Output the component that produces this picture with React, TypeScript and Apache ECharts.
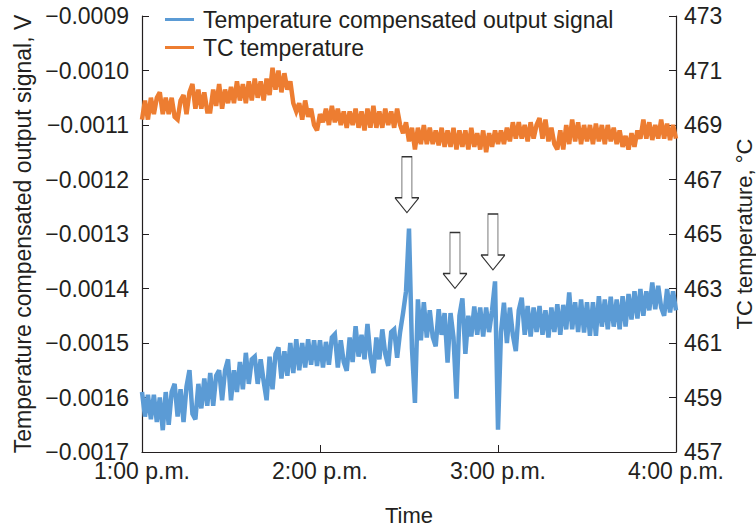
import React, { useEffect, useRef } from "react";
import * as echarts from "echarts";

// Time axis: minutes after 1:00 p.m.
const timeTickLabels = ["1:00 p.m.", "2:00 p.m.", "3:00 p.m.", "4:00 p.m."];

// Temperature compensated output signal, V (one value per minute, 1:00–4:00 p.m.)
const signalValues = [
  -0.00159, -0.001635, -0.001595, -0.00164, -0.001595, -0.001645, -0.0016, -0.00166, -0.00159, -0.00165,
  -0.00159, -0.001575, -0.001635, -0.001585, -0.001645, -0.00158, -0.00155, -0.00163, -0.00164, -0.001575,
  -0.00162, -0.001565, -0.001615, -0.001555, -0.001615, -0.00156, -0.00155, -0.001605, -0.00155, -0.00153,
  -0.001605, -0.00155, -0.00159, -0.001535, -0.001585, -0.001518, -0.001575, -0.00153, -0.001525, -0.001575,
  -0.00153, -0.00157, -0.001605, -0.001525, -0.001585, -0.00152, -0.001508, -0.001565, -0.001515, -0.00156,
  -0.0015, -0.001555, -0.001493, -0.00155, -0.0015, -0.001545, -0.001493, -0.00154, -0.001495, -0.001542,
  -0.001495, -0.001545, -0.001498, -0.00154, -0.00149, -0.001484, -0.001545, -0.001495, -0.001535, -0.001551,
  -0.00149, -0.001535, -0.001469, -0.001525, -0.001485, -0.00153, -0.001465, -0.001525, -0.001555, -0.00149,
  -0.00153, -0.001475, -0.00152, -0.001542, -0.00148, -0.001475, -0.001527, -0.00148, -0.001445, -0.001405,
  -0.00129, -0.00151, -0.00161, -0.00142, -0.001495, -0.001425, -0.00149, -0.00144, -0.001489, -0.001506,
  -0.001438, -0.001485, -0.001445, -0.001536, -0.001445, -0.00149, -0.001602, -0.00145, -0.001418, -0.00152,
  -0.00145, -0.001488, -0.001433, -0.001485, -0.001435, -0.001488, -0.001435, -0.00148, -0.00144, -0.001387,
  -0.001659, -0.00148, -0.001426, -0.0015, -0.001435, -0.001485, -0.001515, -0.00144, -0.001417, -0.001485,
  -0.001432, -0.001488, -0.001435, -0.00148, -0.001432, -0.001485, -0.00144, -0.00149, -0.001435, -0.00148,
  -0.001429, -0.001485, -0.00143, -0.001475, -0.001407, -0.001475, -0.001425, -0.00148, -0.00142, -0.001481,
  -0.001425, -0.001487, -0.001425, -0.001487, -0.001414, -0.00147, -0.00142, -0.001475, -0.001415, -0.00147,
  -0.00142, -0.001475, -0.001414, -0.00147, -0.00141, -0.001457, -0.001405, -0.001455, -0.001401, -0.00145,
  -0.001405, -0.00144, -0.001389, -0.001438, -0.001395, -0.001435, -0.00145, -0.001401, -0.001444, -0.001405,
  -0.00144,
];

// TC temperature, °C (one value per minute)
const tcTemperature = [
  469.2, 469.9, 469.2, 470.0, 469.4, 470.0, 470.2, 469.4, 470.0, 469.4,
  470.0, 469.3, 469.2, 469.9, 470.1, 469.4, 470.2, 470.5, 469.6, 470.3,
  469.6, 470.2, 469.5, 469.5, 470.3, 469.7, 470.5, 469.6, 470.3, 469.8,
  470.4, 469.8, 470.6, 469.9, 470.5, 469.8, 470.6, 469.9, 470.7, 470.0,
  470.6, 469.9, 470.7, 470.1, 471.1, 470.3, 471.0, 470.2, 470.9, 470.3,
  470.6, 469.8, 469.5, 469.8, 469.2, 469.9, 469.3, 469.6, 469.0, 468.8,
  469.4, 469.1, 469.6, 469.0, 469.7, 469.1, 469.6, 469.0, 469.5, 468.9,
  469.5, 469.0, 469.6, 468.9, 469.5, 468.8, 469.6, 468.9, 469.7, 468.9,
  469.5, 468.9, 469.6, 469.0, 469.5, 468.9, 469.6, 469.0, 468.7, 469.1,
  468.4, 468.9, 468.1, 468.9, 468.3, 469.0, 468.3, 468.9, 468.3, 468.8,
  468.25, 468.9, 468.2, 468.8, 468.2, 468.9, 468.1, 468.8, 468.2, 468.8,
  468.1, 468.9, 468.2, 468.7, 468.1, 468.8, 468.0, 468.7, 468.2, 468.8,
  468.3, 468.8, 468.3, 468.9, 468.4, 469.1, 468.5, 469.1, 468.5, 469.0,
  468.4, 469.1, 468.5, 469.0, 469.25, 468.5, 469.2, 468.4, 468.9, 468.3,
  468.1, 468.8, 468.1, 469.0, 468.3, 469.2, 468.4, 469.1, 468.3, 469.0,
  468.4, 469.0, 468.3, 469.05, 468.4, 469.0, 468.3, 469.0, 468.4, 468.9,
  468.3, 468.8, 468.2, 468.6, 468.1, 468.7, 468.2, 468.8, 468.5, 469.2,
  468.5, 469.1, 468.45, 469.0, 468.5, 469.2, 468.5, 469.05, 468.45, 469.0,
  468.5,
];

// Annotation arrows: tip position [minute, signal V]
const arrowTips = [
  [89.3, -0.001261],
  [105.5, -0.0014],
  [118.3, -0.001366],
];

const FONT = "'Liberation Sans', Arial, Helvetica, sans-serif";
const TXT = "#231f20";
const BLUE = "#5b9bd5";
const ORANGE = "#ed7d31";
const ARROW_PATH = "path://M7,0 L17,0 L17,41 L24,41 L12,56 L0,41 L7,41 Z";

export default function App() {
  const ref = useRef<HTMLDivElement>(null);
  useEffect(() => {
    if (!ref.current) return;
    const chart = echarts.init(ref.current, null, { renderer: "svg" });
    const sig = signalValues.map((v, i) => [i, v]);
    const tc = tcTemperature.map((v, i) => [i, v]);
    chart.setOption({
      animation: false,
      textStyle: { fontFamily: FONT, color: TXT },
      grid: { left: 142, right: 80, top: 16, bottom: 77, containLabel: false, outerBoundsMode: "none" },
      legend: {
        orient: "vertical",
        left: 160,
        top: 3,
        itemWidth: 29,
        itemHeight: 3,
        itemGap: 5,
        icon: "rect",
        textStyle: { fontFamily: FONT, fontSize: 23, color: TXT, padding: [0, 0, 0, 4] },
        data: ["Temperature compensated output signal", "TC temperature"],
      },
      xAxis: {
        type: "value",
        min: 0,
        max: 180,
        interval: 60,
        name: "Time",
        nameLocation: "middle",
        nameGap: 52,
        nameTextStyle: { fontFamily: FONT, fontSize: 22, color: TXT },
        axisLine: { show: true, lineStyle: { color: TXT, width: 1.2 } },
        axisTick: { show: true, inside: true, length: 7, lineStyle: { color: TXT } },
        axisLabel: {
          fontFamily: FONT,
          fontSize: 23,
          color: TXT,
          margin: 7,
          formatter: (v: number) => timeTickLabels[Math.round(v / 60)] ?? "",
        },
        splitLine: { show: false },
      },
      yAxis: [
        {
          type: "value",
          min: -0.0017,
          max: -0.0009,
          interval: 0.0001,
          position: "left",
          name: "Temperature compensated output signal, V",
          nameLocation: "middle",
          nameRotate: 90,
          nameGap: 108,
          nameTextStyle: { fontFamily: FONT, fontSize: 23, color: TXT },
          axisLine: { show: true, lineStyle: { color: TXT, width: 1.2 } },
          axisTick: { show: true, inside: true, length: 7, lineStyle: { color: TXT } },
          axisLabel: {
            fontFamily: FONT,
            fontSize: 23,
            color: TXT,
            margin: 13,
            formatter: (v: number) => v.toFixed(4).replace("-", "\u2212"),
          },
          splitLine: { show: false },
        },
        {
          type: "value",
          min: 457,
          max: 473,
          interval: 2,
          position: "right",
          name: "TC temperature, °C",
          nameLocation: "middle",
          nameRotate: 90,
          nameGap: 46,
          nameTextStyle: { fontFamily: FONT, fontSize: 22, color: TXT },
          axisLine: { show: true, lineStyle: { color: TXT, width: 1.2 } },
          axisTick: { show: true, inside: true, length: 7, lineStyle: { color: TXT } },
          axisLabel: { fontFamily: FONT, fontSize: 23, color: TXT, margin: 8 },
          splitLine: { show: false },
        },
      ],
      series: [
        {
          name: "Temperature compensated output signal",
          type: "line",
          yAxisIndex: 0,
          data: sig,
          showSymbol: false,
          symbol: "none",
          color: BLUE,
          lineStyle: { color: BLUE, width: 4.5, join: "miter", miterLimit: 3 },
          markPoint: {
            symbol: ARROW_PATH,
            symbolSize: [24, 56],
            symbolOffset: [0, "-50%"],
            itemStyle: { color: "#ffffff", borderColor: "#333333", borderWidth: 1 },
            label: { show: false },
            data: arrowTips.map((c) => ({ coord: c })),
          },
        },
        {
          name: "TC temperature",
          type: "line",
          yAxisIndex: 1,
          data: tc,
          showSymbol: false,
          symbol: "none",
          color: ORANGE,
          lineStyle: { color: ORANGE, width: 4.5, join: "miter", miterLimit: 3 },
        },
      ],
    });
    return () => chart.dispose();
  }, []);
  return (
    <div
      ref={ref}
      style={{ position: "fixed", left: 0, top: 0, width: 756, height: 529, background: "#fff" }}
    />
  );
}
